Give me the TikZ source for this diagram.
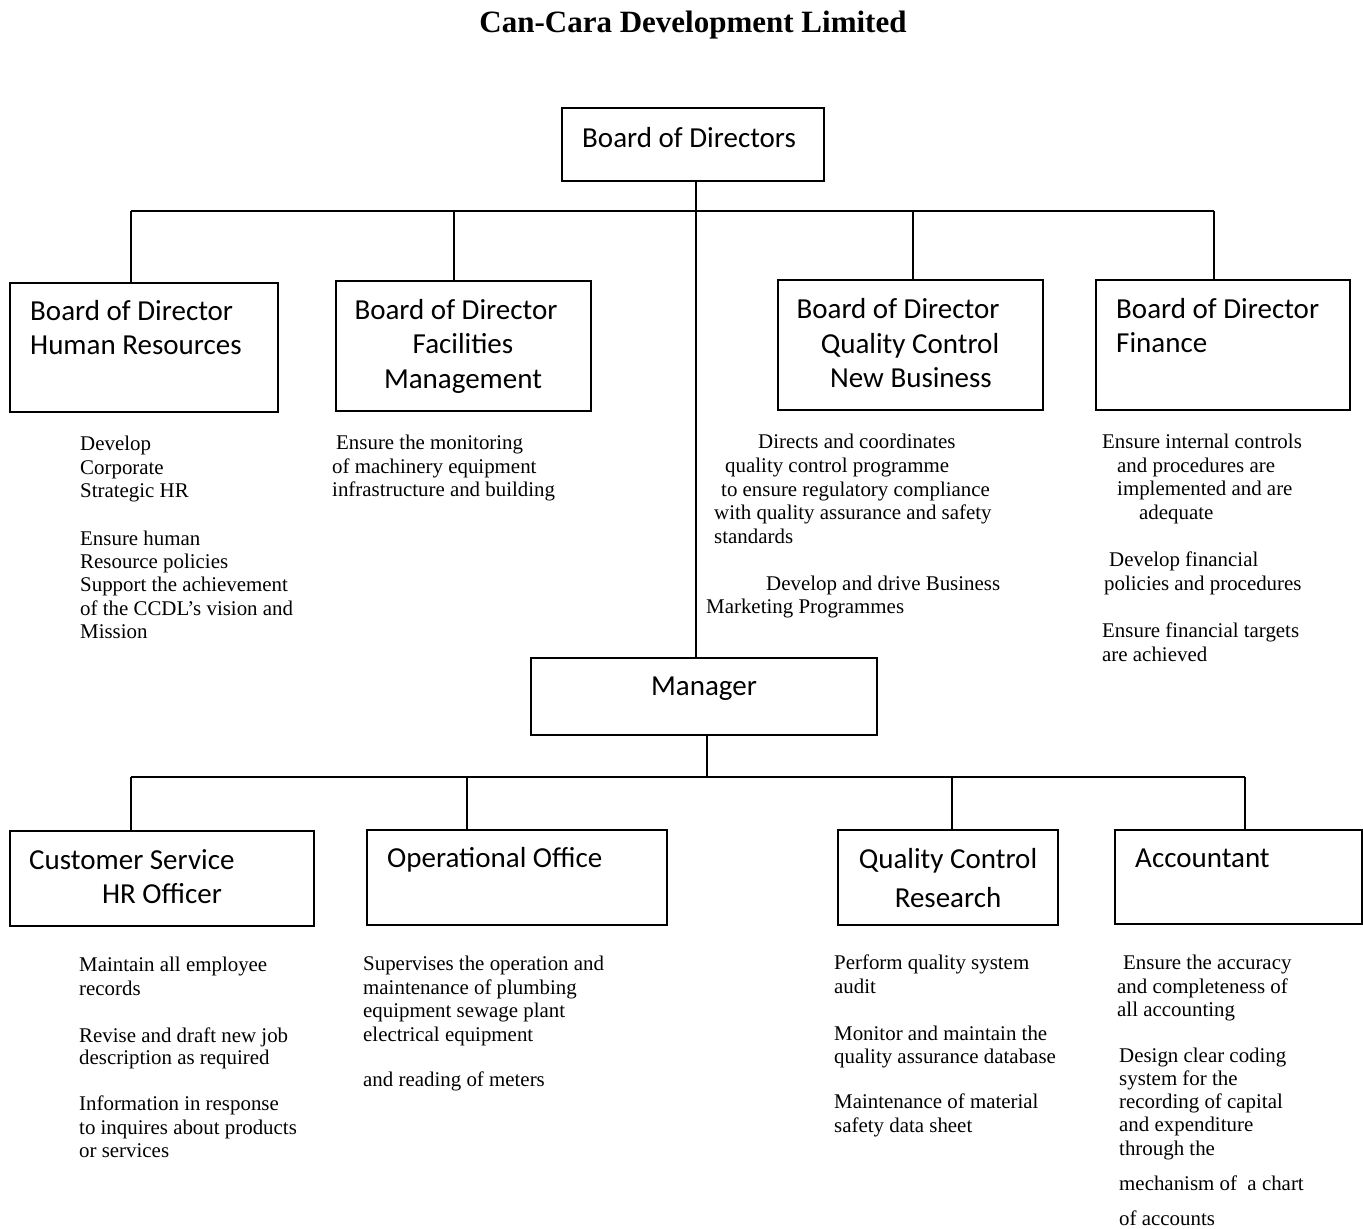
\documentclass[tikz,border=0pt]{standalone}
\usepackage{fontspec}
\setmainfont{Liberation Serif}
\newfontfamily\boxfont{Carlito}
\begin{document}
\begin{tikzpicture}[x=1pt,y=-1pt,
  bx/.style={draw,line width=1.8pt,inner sep=0pt},
  ln/.style={line width=1.5pt},
  bt/.style={font=\boxfont\fontsize{29}{31}\selectfont,inner sep=0pt,anchor=base west},
  btc/.style={font=\boxfont\fontsize{29}{31}\selectfont,inner sep=0pt,anchor=base},
  txt/.style={font=\fontsize{20.9}{23}\selectfont,inner sep=0pt,anchor=base west}]
\useasboundingbox (0,0) rectangle (1363,1229);
\node[font=\bfseries\fontsize{31}{33}\selectfont,anchor=base,inner sep=0pt] (title) at (693,32) {Can-Cara Development Limited};
% top level boxes
\draw[bx] (562,108) rectangle (824,181);
\coordinate (bodB) at (696,181);
\node[bt] (bodT) at (582,147) {Board of Directors};
\draw[bx] (10,283) rectangle (278,412);
\node[bt] (hr1) at (30,320) {Board of Director};
\node[bt] (hr2) at (30,354) {Human Resources};
\draw[bx] (336,281) rectangle (591,411);
\node[btc] (fm1) at (456,319) {Board of Director};
\node[btc] (fm2) at (463,353) {Facilities};
\node[btc] (fm3) at (463,388) {Management};
\draw[bx] (778,280) rectangle (1043,410);
\node[btc] (qc1) at (898,318) {Board of Director};
\node[btc] (qc2) at (910,353) {Quality Control};
\node[btc] (qc3) at (911,387) {New Business};
\draw[bx] (1096,280) rectangle (1350,410);
\node[bt] (fi1) at (1116,318) {Board of Director};
\node[bt] (fi2) at (1116,352) {Finance};
% manager
\draw[bx] (531,658) rectangle (877,735);
\node[btc] (mgT) at (704,695) {Manager};
% lower boxes
\draw[bx] (10,831) rectangle (314,926);
\node[bt] (cs1) at (29,869) {Customer Service};
\node[btc] (cs2) at (162,903) {HR Officer};
\draw[bx] (367,830) rectangle (667,925);
\node[bt] (op1) at (387,867) {Operational Office};
\draw[bx] (838,830) rectangle (1058,925);
\node[btc] (qr1) at (948,868) {Quality Control};
\node[btc] (qr2) at (948,907) {Research};
\draw[bx] (1115,830) rectangle (1362,924);
\node[bt] (ac1) at (1135,867) {Accountant};
% connectors top
\coordinate (busTL) at (131,211);
\coordinate (busTR) at (1214,211);
\draw[ln] (busTL) -- (busTR);
\draw[ln] (bodB) -- (696,658);
\draw[ln] (busTL) -- (131,283);
\draw[ln] (454,211) -- (454,281);
\draw[ln] (913,211) -- (913,280);
\draw[ln] (busTR) -- (1214,280);
% connectors bottom
\coordinate (busBL) at (131,777);
\coordinate (busBR) at (1245,777);
\draw[ln] (707,735) -- (707,777);
\draw[ln] (busBL) -- (busBR);
\draw[ln] (busBL) -- (131,831);
\draw[ln] (467,777) -- (467,830);
\draw[ln] (952,777) -- (952,830);
\draw[ln] (busBR) -- (1245,830);
% texts
\foreach \x/\y/\s [count=\i] in {
 80/444/Develop, 80/468/Corporate, 80/491/Strategic HR,
 80/539/Ensure human, 80/562/Resource policies, 80/585/Support the achievement,
 80/609/of the CCDL’s vision and, 80/632/Mission,
 336/443/Ensure the monitoring, 332/467/of machinery equipment, 332/490/infrastructure and building,
 758/442/Directs and coordinates, 725/466/quality control programme, 721/490/to ensure regulatory compliance,
 714/513/with quality assurance and safety, 714/537/standards,
 766/584/Develop and drive Business, 706/607/Marketing Programmes,
 1102/442/Ensure internal controls, 1117/466/and procedures are, 1117/489/implemented and are, 1139/513/adequate,
 1109/560/Develop financial, 1104/584/policies and procedures,
 1102/631/Ensure financial targets, 1102/655/are achieved,
 79/965/Maintain all employee, 79/989/records, 79/1036/Revise and draft new job, 79/1058/description as required,
 79/1104/Information in response, 79/1128/to inquires about products, 79/1151/or services,
 363/964/Supervises the operation and, 363/988/maintenance of plumbing, 363/1011/equipment sewage plant,
 363/1035/electrical equipment, 363/1080/and reading of meters,
 834/963/Perform quality system, 834/987/audit, 834/1034/Monitor and maintain the, 834/1057/quality assurance database,
 834/1102/Maintenance of material, 834/1126/safety data sheet,
 1123/963/Ensure the accuracy, 1117/987/and completeness of, 1117/1010/all accounting,
 1119/1056/Design clear coding, 1119/1079/system for the, 1119/1102/recording of capital,
 1119/1125/and expenditure, 1119/1149/through the, 1119/1184/mechanism of\ \ a chart, 1119/1219/of accounts}
 \node[txt,name=t\i] at (\x,\y+6) {\s};
\end{tikzpicture}
\end{document}
